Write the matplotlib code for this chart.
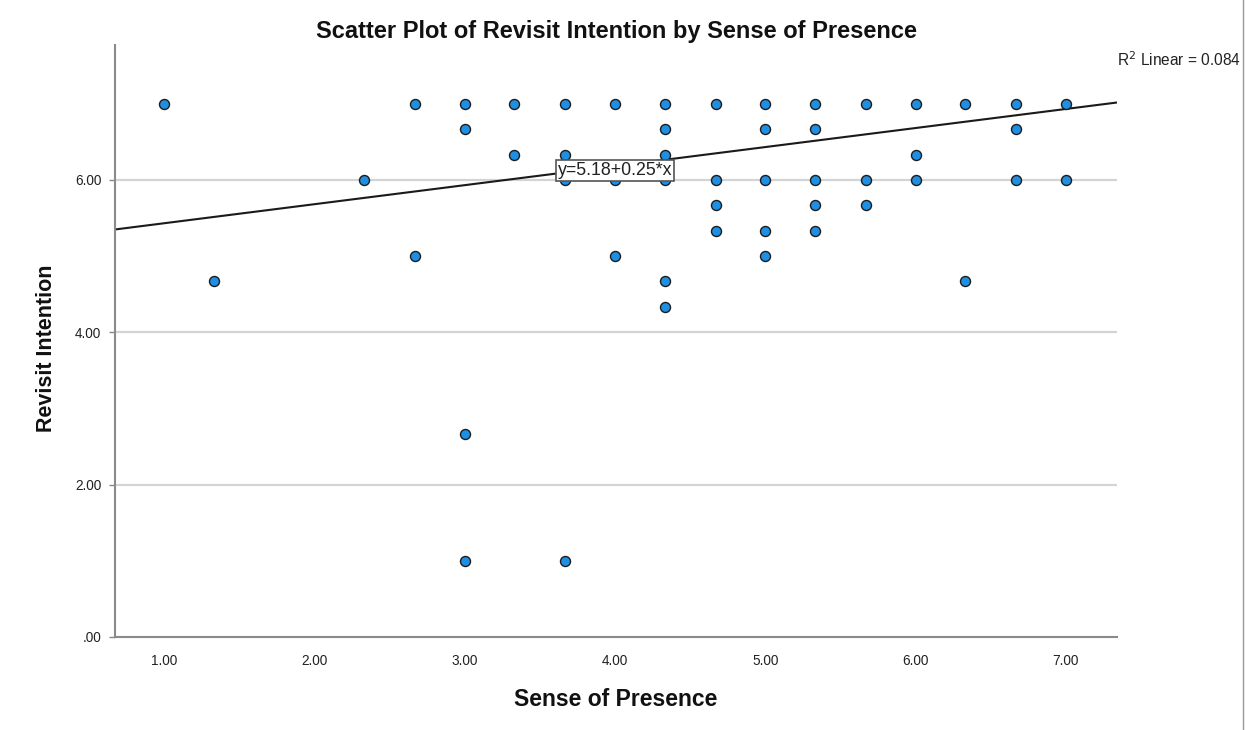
import matplotlib
matplotlib.use("Agg")
import matplotlib.pyplot as plt
from matplotlib.lines import Line2D
import numpy as np

plt.rcParams['font.family'] = ['Liberation Sans', 'DejaVu Sans']

# Sense of presence (x) and revisit intention (y) for each respondent group
presence = [1.00, 1.33, 2.33, 2.67, 2.67,
            3.00, 3.00, 3.00, 3.00,
            3.33, 3.33,
            3.67, 3.67, 3.67, 3.67,
            4.00, 4.00, 4.00,
            4.33, 4.33, 4.33, 4.33, 4.33, 4.33,
            4.67, 4.67, 4.67, 4.67,
            5.00, 5.00, 5.00, 5.00, 5.00,
            5.33, 5.33, 5.33, 5.33, 5.33,
            5.67, 5.67, 5.67,
            6.00, 6.00, 6.00,
            6.33, 6.33,
            6.67, 6.67, 6.67,
            7.00, 7.00]
revisit = [7.00, 4.67, 6.00, 7.00, 5.00,
           7.00, 6.67, 2.67, 1.00,
           7.00, 6.33,
           7.00, 6.33, 6.00, 1.00,
           7.00, 6.00, 5.00,
           7.00, 6.67, 6.33, 6.00, 4.67, 4.33,
           7.00, 6.00, 5.67, 5.33,
           7.00, 6.67, 6.00, 5.33, 5.00,
           7.00, 6.67, 6.00, 5.67, 5.33,
           7.00, 6.00, 5.67,
           7.00, 6.33, 6.00,
           7.00, 4.67,
           7.00, 6.67, 6.00,
           7.00, 6.00]

intercept = 5.18
slope = 0.25
r_squared = 0.084

x_ticks = [1, 2, 3, 4, 5, 6, 7]
y_ticks = [0, 2, 4, 6]
x_tick_labels = ["1.00", "2.00", "3.00", "4.00", "5.00", "6.00", "7.00"]
y_tick_labels = [".00", "2.00", "4.00", "6.00"]

fig = plt.figure(figsize=(12.45, 7.30), dpi=100)
ax = fig.add_axes([0.0924, 0.1274, 0.8048, 0.8110])

xlim = (0.674, 7.34)
ylim = (0.0, 7.77)
ax.set_xlim(*xlim)
ax.set_ylim(*ylim)

# horizontal reference lines
for yv in y_ticks[1:]:
    ax.axhline(yv, color='#d4d4d4', lw=1.6, zorder=0)

# fit line
xs = np.array(xlim)
ax.plot(xs, intercept + slope * xs, color='#1a1a1a', lw=1.5, zorder=2)

ax.scatter(presence, revisit, s=52, facecolor='#1e8fe3', edgecolor='#1c1c1c',
           linewidth=1.0, zorder=3)

ax.annotate(f"y={intercept:.2f}+{slope:.2f}*x", xy=(4.0, 6.12), ha='center', va='center',
            fontsize=12.8, color='#222222', zorder=5,
            bbox=dict(boxstyle='square,pad=0.12', facecolor='white', edgecolor='#555555', lw=1.2))

ax.set_xticks(x_ticks)
ax.set_xticklabels(x_tick_labels)
ax.set_yticks(y_ticks)
ax.set_yticklabels(y_tick_labels)
ax.tick_params(axis='x', length=0, pad=12, labelsize=9.8, labelcolor='#222222')
ax.tick_params(axis='y', length=4, width=1.0, color='#888888', pad=6, labelsize=9.8, labelcolor='#222222')

for side in ['top', 'right']:
    ax.spines[side].set_visible(False)
for side in ['left', 'bottom']:
    ax.spines[side].set_color('#8a8a8a')
    ax.spines[side].set_linewidth(1.5)

ax.set_xlabel("Sense of Presence", fontsize=16.5, fontweight='bold', labelpad=15, color='#111111')
ax.set_ylabel("Revisit Intention", fontsize=15.5, fontweight='bold', color='#111111')
ax.yaxis.set_label_coords(-0.058, 0.488)
ax.set_title("Scatter Plot of Revisit Intention by Sense of Presence", fontsize=17,
             fontweight='bold', pad=5, color='#111111')

fig.text(0.897, 1 - 60 / 730, f"R$^2$ Linear = {r_squared:.3f}", ha='left', va='center',
         fontsize=11.2, color='#222222')

# thin frame line on the right edge of the output panel
fig.add_artist(Line2D([0.9985, 0.9985], [0.0, 1.0], transform=fig.transFigure,
                      color='#9a9a9a', lw=1.0))

fig.savefig("out.png", dpi=100, facecolor='white')
